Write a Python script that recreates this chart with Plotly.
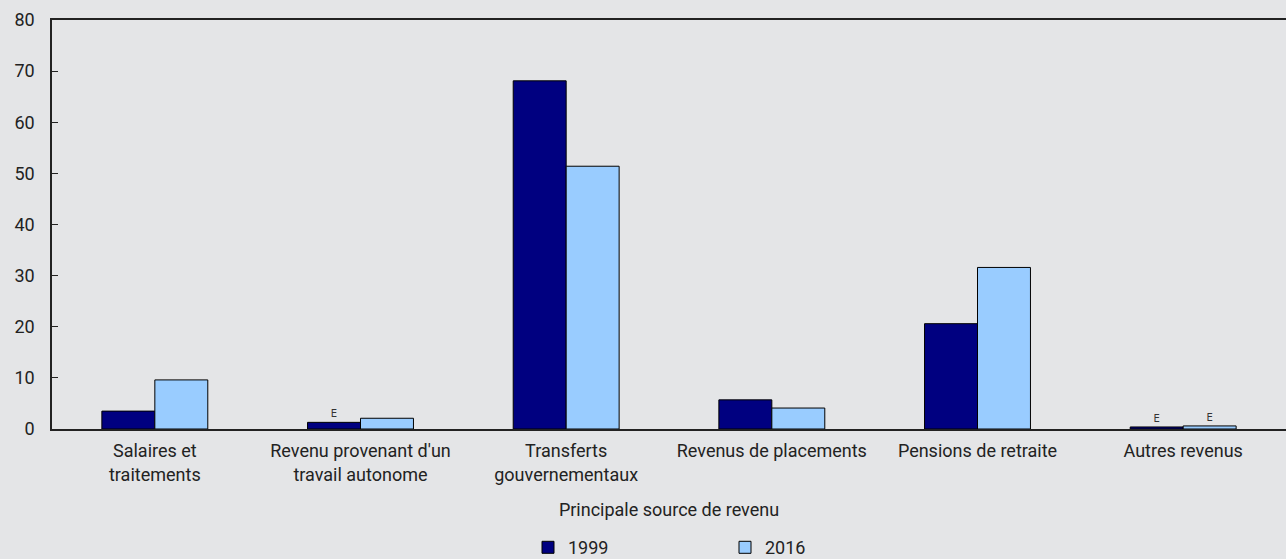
import plotly.graph_objects as go

categories = ["Salaires et<br>traitements", "Revenu provenant d'un<br>travail autonome",
              "Transferts<br>gouvernementaux", "Revenus de placements",
              "Pensions de retraite", "Autres revenus"]
values_1999 = [3.5, 1.3, 68.1, 5.7, 20.6, 0.4]
values_2016 = [9.6, 2.1, 51.4, 4.1, 31.6, 0.6]
flags_1999 = ["", "E", "", "", "", "E"]
flags_2016 = ["", "", "", "", "", "E"]
y_ticks = [0, 10, 20, 30, 40, 50, 60, 70, 80]

FONT = "Roboto, sans-serif"
BG = "#e4e5e7"

fig = go.Figure()
fig.add_trace(go.Bar(name="1999", x=categories, y=values_1999, text=flags_1999,
                     textposition="outside", cliponaxis=False,
                     textfont=dict(size=10, color="#333333", family="DejaVu Sans"),
                     marker=dict(color="#000080", line=dict(color="#000000", width=1))))
fig.add_trace(go.Bar(name="2016", x=categories, y=values_2016, text=flags_2016,
                     textposition="outside", cliponaxis=False,
                     textfont=dict(size=10, color="#333333", family="DejaVu Sans"),
                     marker=dict(color="#99ccff", line=dict(color="#000000", width=1))))

fig.update_layout(
    width=1286, height=559,
    barmode="group", bargap=0.485, bargroupgap=0,
    paper_bgcolor=BG, plot_bgcolor=BG,
    margin=dict(l=52, r=0, t=20, b=130, autoexpand=False),
    font=dict(family=FONT, size=18, color="#222222"),
    showlegend=True,
    legend=dict(orientation="h", x=(528 - 52) / 1234, xanchor="left", y=-0.29,
                yanchor="middle", entrywidth=152, entrywidthmode="pixels",
                font=dict(size=18), bgcolor="rgba(0,0,0,0)", traceorder="normal"),
)
fig.update_xaxes(showline=True, linecolor="#222222", linewidth=1.5, mirror=True,
                 ticks="", showgrid=False, ticklabelstandoff=5, automargin=False,
                 title=dict(text="Principale source de revenu", standoff=20,
                            font=dict(size=18)),
                 tickfont=dict(size=18))
fig.update_yaxes(range=[0, 80], tickvals=y_ticks, showline=True, linecolor="#222222",
                 linewidth=1.5, ticks="inside", ticklen=6, tickcolor="#222222",
                 showgrid=False, zeroline=False, tickfont=dict(size=18),
                 ticklabelstandoff=12, automargin=False)

fig.write_html("out.html", config={"displayModeBar": False},
               post_script="document.body.style.margin='0';"
                           "document.body.style.background='#e4e5e7';")
